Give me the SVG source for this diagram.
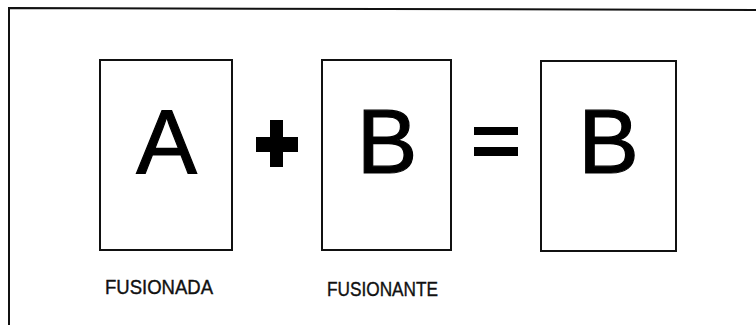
<svg xmlns="http://www.w3.org/2000/svg" width="756" height="326" viewBox="0 0 756 326">
<style>
.frame{fill:none;stroke:#111;stroke-width:2}
.box{fill:#fff;stroke:#111;stroke-width:2}
.big{font-family:"Liberation Sans",Arial,sans-serif;font-size:91px;fill:#000;stroke:#000;stroke-width:1.2;text-anchor:middle}
.lbl{font-family:"Liberation Sans",Arial,sans-serif;font-size:21px;fill:#111;stroke:#111;stroke-width:0.4}
</style>
<defs>
<linearGradient id="fade" x1="0" y1="0" x2="1" y2="0">
<stop offset="0" stop-color="#111"/>
<stop offset="0.7" stop-color="#444"/>
<stop offset="1" stop-color="#bbb"/>
</linearGradient>
</defs>
<rect width="756" height="326" fill="#fff"/>
<g id="frame">
<path class="frame" d="M9,325 L9,8 L756,10"/>
<line x1="9" y1="325" x2="395" y2="325" stroke="url(#fade)" stroke-width="2"/>
</g>
<g id="node-a">
<rect class="box" x="100" y="60" width="132" height="190"/>
<text class="big" x="166.5" y="172.5">A</text>
<text class="lbl" x="105" y="294" textLength="108" lengthAdjust="spacingAndGlyphs">FUSIONADA</text>
</g>
<g id="op-plus">
<rect x="270" y="120" width="13" height="47" fill="#000"/>
<rect x="256" y="137" width="42" height="15" fill="#000"/>
</g>
<g id="node-b">
<rect class="box" x="322" y="60" width="129" height="190"/>
<text class="big" x="387" y="172.5">B</text>
<text class="lbl" x="327" y="296" textLength="111" lengthAdjust="spacingAndGlyphs">FUSIONANTE</text>
</g>
<g id="op-equals">
<rect x="474" y="127" width="44" height="8" fill="#000"/>
<rect x="474" y="147" width="44" height="9" fill="#000"/>
</g>
<g id="node-result">
<rect class="box" x="541" y="61" width="135" height="190"/>
<text class="big" x="608.5" y="172.5">B</text>
</g>
<g id="connectors"></g>
</svg>
